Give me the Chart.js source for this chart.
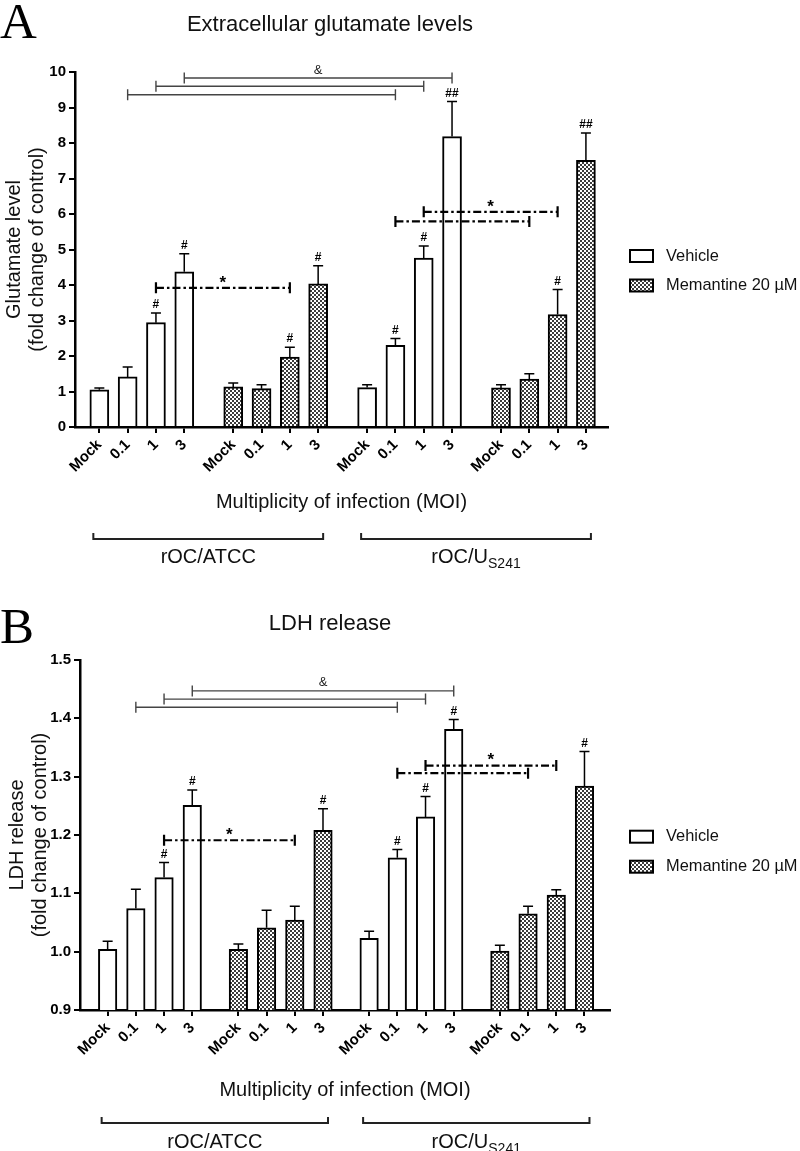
<!DOCTYPE html>
<html>
<head>
<meta charset="utf-8">
<script src="https://cdn.jsdelivr.net/npm/chart.js@4.4.0/dist/chart.umd.min.js"></script>
<style>
    html, body { margin: 0; padding: 0; background: #fff; }
    #wrap { position: relative; width: 800px; height: 1151px; }
    .panel { position: absolute; left: 0; width: 800px; }
    #panelA { top: 0; height: 580px; }
    #panelB { top: 580px; height: 571px; }
</style>
</head>
<body>
<div id="wrap">
    <div class="panel" id="panelA"><canvas id="chartA"></canvas></div>
    <div class="panel" id="panelB"><canvas id="chartB"></canvas></div>
</div>
<script>
// 刻度和图例文字
var moiLabels = ['Mock', '0.1', '1', '3'];
var seriesLabels = ['Vehicle', 'Memantine 20 µM'];
var strainLabels = ['rOC/ATCC', 'rOC/U'];
var strainSub = ['', 'S241'];

// A: 谷氨酸水平 (fold change of control), 均值 + SEM
var gluVehAtcc = [1.05, 1.41, 2.94, 4.37];
var gluVehAtccErr = [0.05, 0.28, 0.27, 0.51];
var gluMemAtcc = [1.13, 1.08, 1.97, 4.03];
var gluMemAtccErr = [0.11, 0.11, 0.28, 0.51];
var gluVehUs = [1.11, 2.30, 4.76, 8.18];
var gluVehUsErr = [0.08, 0.19, 0.34, 0.99];
var gluMemUs = [1.10, 1.35, 3.17, 7.51];
var gluMemUsErr = [0.09, 0.15, 0.70, 0.77];
var gluMarks = ['', '', '#', '#', '', '', '#', '#', '', '#', '#', '##', '', '', '#', '##'];
var gluAmpPairs = [[1, 9], [2, 10], [3, 11]];
var gluAmpLevels = [9.36, 9.6, 9.83];
var gluStarPairs = [[2, 6], [9, 13], [10, 14]];
var gluStarLevels = [3.92, 5.79, 6.06];
var gluYTicks = [0, 10, 1];

// B: LDH 释放
var ldhVehAtcc = [1.004, 1.074, 1.127, 1.251];
var ldhVehAtccErr = [0.014, 0.033, 0.026, 0.026];
var ldhMemAtcc = [1.004, 1.041, 1.054, 1.208];
var ldhMemAtccErr = [0.009, 0.030, 0.024, 0.037];
var ldhVehUs = [1.023, 1.161, 1.231, 1.381];
var ldhVehUsErr = [0.012, 0.014, 0.035, 0.017];
var ldhMemUs = [1.001, 1.065, 1.097, 1.284];
var ldhMemUsErr = [0.010, 0.013, 0.009, 0.059];
var ldhMarks = ['', '', '#', '#', '', '', '', '#', '', '#', '#', '#', '', '', '', '#'];
var ldhAmpPairs = [[1, 9], [2, 10], [3, 11]];
var ldhAmpLevels = [1.419, 1.433, 1.447];
var ldhStarPairs = [[2, 6], [9, 13], [10, 14]];
var ldhStarLevels = [1.191, 1.306, 1.319];
var ldhYTicks = [0.9, 1.5, 0.1];

var SANS = "'Liberation Sans', Arial, sans-serif";
var SERIF = "'Liberation Serif', 'Times New Roman', serif";

// 网格纹理 (Memantine 柱子)
function makePattern() {
    var c = document.createElement('canvas');
    c.width = 4; c.height = 4;
    var g = c.getContext('2d');
    g.fillStyle = '#fff';
    g.fillRect(0, 0, 4, 4);
    g.fillStyle = '#3c3c3c';
    g.fillRect(0, 0, 2, 2);
    g.fillRect(2, 2, 2, 2);
    return g.createPattern(c, 'repeat');
}
var hatch = makePattern();

// 每组 4 根柱子, 组间留空
function slotPositions(groupStep) {
    var xs = [];
    for (var g = 0; g < 4; g++) {
        for (var i = 0; i < 4; i++) xs.push(g * groupStep + i);
    }
    return xs;
}

function drawBracket(ctx, x1, x2, y, dashed) {
    ctx.save();
    ctx.strokeStyle = dashed ? '#000' : '#444';
    ctx.lineWidth = dashed ? 2.2 : 1.4;
    if (dashed) ctx.setLineDash([8, 3, 2.5, 3]);
    ctx.beginPath();
    ctx.moveTo(x1, y); ctx.lineTo(x2, y);
    ctx.stroke();
    ctx.setLineDash([]);
    ctx.beginPath();
    ctx.moveTo(x1, y - 5.5); ctx.lineTo(x1, y + 5.5);
    ctx.moveTo(x2, y - 5.5); ctx.lineTo(x2, y + 5.5);
    ctx.stroke();
    ctx.restore();
}

function buildChart(canvasId, p) {
    var xs = slotPositions(p.groupStep);
    var means = [].concat(p.series[0], p.series[1], p.series[2], p.series[3]);
    var errs = [].concat(p.errors[0], p.errors[1], p.errors[2], p.errors[3]);
    var vehData = [], memData = [];
    for (var k = 0; k < 16; k++) {
        var pt = { x: xs[k], y: means[k] };
        if (Math.floor(k / 4) % 2 === 0) vehData.push(pt); else memData.push(pt);
    }

    var decor = {
        id: 'decor',
        afterDraw: function (chart) {
            var ctx = chart.ctx;
            var xS = chart.scales.x, yS = chart.scales.y, area = chart.chartArea;
            var px = function (k) { return xS.getPixelForValue(xs[k]); };
            ctx.save();

            // 误差线和 # 标记
            for (var k = 0; k < 16; k++) {
                var x = px(k);
                var yb = yS.getPixelForValue(means[k]);
                var yt = yS.getPixelForValue(means[k] + errs[k]);
                ctx.strokeStyle = '#000';
                ctx.lineWidth = 1.5;
                ctx.beginPath();
                ctx.moveTo(x, yb); ctx.lineTo(x, yt);
                ctx.moveTo(x - 5, yt); ctx.lineTo(x + 5, yt);
                ctx.stroke();
                if (p.marks[k]) {
                    ctx.fillStyle = '#000';
                    ctx.font = 'bold 12px ' + SANS;
                    ctx.textAlign = 'center';
                    ctx.textBaseline = 'middle';
                    ctx.fillText(p.marks[k], x, yt - 8);
                }
            }

            // & 比较线
            p.ampPairs.forEach(function (pr, j) {
                var y = yS.getPixelForValue(p.ampLevels[j]);
                drawBracket(ctx, px(pr[0]), px(pr[1]), y, false);
                if (j === p.ampPairs.length - 1) {
                    ctx.fillStyle = '#222';
                    ctx.font = '13px ' + SANS;
                    ctx.textAlign = 'center';
                    ctx.textBaseline = 'middle';
                    ctx.fillText('&', (px(pr[0]) + px(pr[1])) / 2, y - 8);
                }
            });

            // * 比较线
            p.starPairs.forEach(function (pr, j) {
                var y = yS.getPixelForValue(p.starLevels[j]);
                drawBracket(ctx, px(pr[0]), px(pr[1]), y, true);
                if (j !== 1) {
                    ctx.fillStyle = '#000';
                    ctx.font = 'bold 17px ' + SANS;
                    ctx.textAlign = 'center';
                    ctx.textBaseline = 'middle';
                    ctx.fillText('*', (px(pr[0]) + px(pr[1])) / 2, y - 5);
                }
            });

            // 面板字母和标题
            ctx.fillStyle = '#000';
            ctx.font = '51px ' + SERIF;
            ctx.textAlign = 'left';
            ctx.textBaseline = 'alphabetic';
            ctx.fillText(p.letter, 0, p.letterY);

            ctx.fillStyle = '#111';
            ctx.font = '22px ' + SANS;
            ctx.textAlign = 'center';
            ctx.textBaseline = 'middle';
            ctx.fillText(p.title, 330, p.titleY);

            // y 轴标题
            var yc = (area.top + area.bottom) / 2;
            ctx.font = '20px ' + SANS;
            p.yTitle.forEach(function (t, j) {
                ctx.save();
                ctx.translate(p.yTitleX[j], yc);
                ctx.rotate(-Math.PI / 2);
                ctx.fillText(t, 0, 0);
                ctx.restore();
            });

            // x 轴标题
            ctx.font = '20px ' + SANS;
            ctx.fillText('Multiplicity of infection (MOI)', (area.left + area.right) / 2, p.xTitleY);

            // 病毒株分组括号
            [[0, 7], [8, 15]].forEach(function (rg, j) {
                var x1 = px(rg[0]) - 6, x2 = px(rg[1]) + 5;
                ctx.strokeStyle = '#222';
                ctx.lineWidth = 2;
                ctx.beginPath();
                ctx.moveTo(x1, p.bracketY - 6); ctx.lineTo(x1, p.bracketY);
                ctx.lineTo(x2, p.bracketY); ctx.lineTo(x2, p.bracketY - 6);
                ctx.stroke();
                var cx = (x1 + x2) / 2;
                ctx.font = '20px ' + SANS;
                var w1 = ctx.measureText(strainLabels[j]).width;
                ctx.font = '14px ' + SANS;
                var w2 = strainSub[j] ? ctx.measureText(strainSub[j]).width : 0;
                var sx = cx - (w1 + w2) / 2;
                ctx.textAlign = 'left';
                ctx.textBaseline = 'alphabetic';
                ctx.fillStyle = '#111';
                ctx.font = '20px ' + SANS;
                ctx.fillText(strainLabels[j], sx, p.strainY + 7);
                if (strainSub[j]) {
                    ctx.font = '14px ' + SANS;
                    ctx.fillText(strainSub[j], sx + w1, p.strainY + 12);
                }
            });

            // 图例
            seriesLabels.forEach(function (t, j) {
                var ly = p.legendY[j];
                ctx.fillStyle = j === 0 ? '#fff' : hatch;
                ctx.fillRect(630, ly - 6, 23, 12);
                ctx.strokeStyle = '#000';
                ctx.lineWidth = 2;
                ctx.strokeRect(630, ly - 6, 23, 12);
                ctx.fillStyle = '#111';
                ctx.font = '16.4px ' + SANS;
                ctx.textAlign = 'left';
                ctx.textBaseline = 'middle';
                ctx.fillText(t, 666, ly);
            });

            ctx.restore();
        }
    };

    return new Chart(document.getElementById(canvasId).getContext('2d'), {
        type: 'bar',
        data: {
            datasets: [
                {
                    label: seriesLabels[0],
                    data: vehData,
                    backgroundColor: '#fff',
                    borderColor: '#000',
                    borderWidth: 2,
                    barThickness: p.barWidth,
                    grouped: false
                },
                {
                    label: seriesLabels[1],
                    data: memData,
                    backgroundColor: hatch,
                    borderColor: '#000',
                    borderWidth: 2,
                    barThickness: p.barWidth,
                    grouped: false
                }
            ]
        },
        options: {
            responsive: true,
            maintainAspectRatio: false,
            animation: false,
            layout: { padding: { left: 0, top: p.top, right: p.right, bottom: 0 } },
            plugins: { legend: { display: false }, tooltip: { enabled: false } },
            scales: {
                x: {
                    type: 'linear',
                    min: p.xMin,
                    max: p.xMax,
                    offset: false,
                    afterBuildTicks: function (s) {
                        s.ticks = xs.map(function (v) { return { value: v }; });
                    },
                    afterFit: function (s) { s.height = p.xAxisHeight; },
                    ticks: {
                        autoSkip: false,
                        minRotation: 45,
                        maxRotation: 45,
                        color: '#000',
                        padding: 3,
                        font: { family: SANS, size: 15, weight: 'bold' },
                        callback: function (v, i) { return moiLabels[i % 4]; }
                    },
                    grid: { drawOnChartArea: false, drawTicks: true, tickLength: 6, color: '#000', lineWidth: 2, offset: false },
                    border: { color: '#000', width: 2.5, dash: p.xDash }
                },
                y: {
                    min: p.yTicks[0],
                    max: p.yTicks[1],
                    afterFit: function (s) { s.width = p.left; },
                    ticks: {
                        stepSize: p.yTicks[2],
                        color: '#000',
                        padding: 3,
                        font: { family: SANS, size: 15, weight: 'bold' },
                        callback: p.yFormat
                    },
                    grid: { drawOnChartArea: false, drawTicks: true, tickLength: 6, color: '#000', lineWidth: 2 },
                    border: { color: '#000', width: 2.5 }
                }
            }
        },
        plugins: [decor]
    });
}

buildChart('chartA', {
    series: [gluVehAtcc, gluMemAtcc, gluVehUs, gluMemUs],
    errors: [gluVehAtccErr, gluMemAtccErr, gluVehUsErr, gluMemUsErr],
    marks: gluMarks,
    ampPairs: gluAmpPairs, ampLevels: gluAmpLevels,
    starPairs: gluStarPairs, starLevels: gluStarLevels,
    yTicks: gluYTicks,
    yFormat: function (v) { return v; },
    groupStep: 4.73, xMin: -0.86, xMax: 17.97, barWidth: 19,
    left: 75, right: 192, top: 72, xAxisHeight: 153, xDash: [7, 2],
    letter: 'A', letterY: 38,
    title: 'Extracellular glutamate levels', titleY: 25,
    yTitle: ['Glutamate level', '(fold change of control)'], yTitleX: [14, 37],
    xTitleY: 502, bracketY: 539, strainY: 556, legendY: [256, 285.5]
});

buildChart('chartB', {
    series: [ldhVehAtcc, ldhMemAtcc, ldhVehUs, ldhMemUs],
    errors: [ldhVehAtccErr, ldhMemAtccErr, ldhVehUsErr, ldhMemUsErr],
    marks: ldhMarks,
    ampPairs: ldhAmpPairs, ampLevels: ldhAmpLevels,
    starPairs: ldhStarPairs, starLevels: ldhStarLevels,
    yTicks: ldhYTicks,
    yFormat: function (v) { return v.toFixed(1); },
    groupStep: 4.635, xMin: -0.98, xMax: 17.81, barWidth: 18.5,
    left: 80, right: 190, top: 80, xAxisHeight: 141, xDash: [],
    letter: 'B', letterY: 63,
    title: 'LDH release', titleY: 44,
    yTitle: ['LDH release', '(fold change of control)'], yTitleX: [17, 40],
    xTitleY: 510, bracketY: 543, strainY: 561, legendY: [256.7, 286.7]
});
</script>
</body>
</html>
